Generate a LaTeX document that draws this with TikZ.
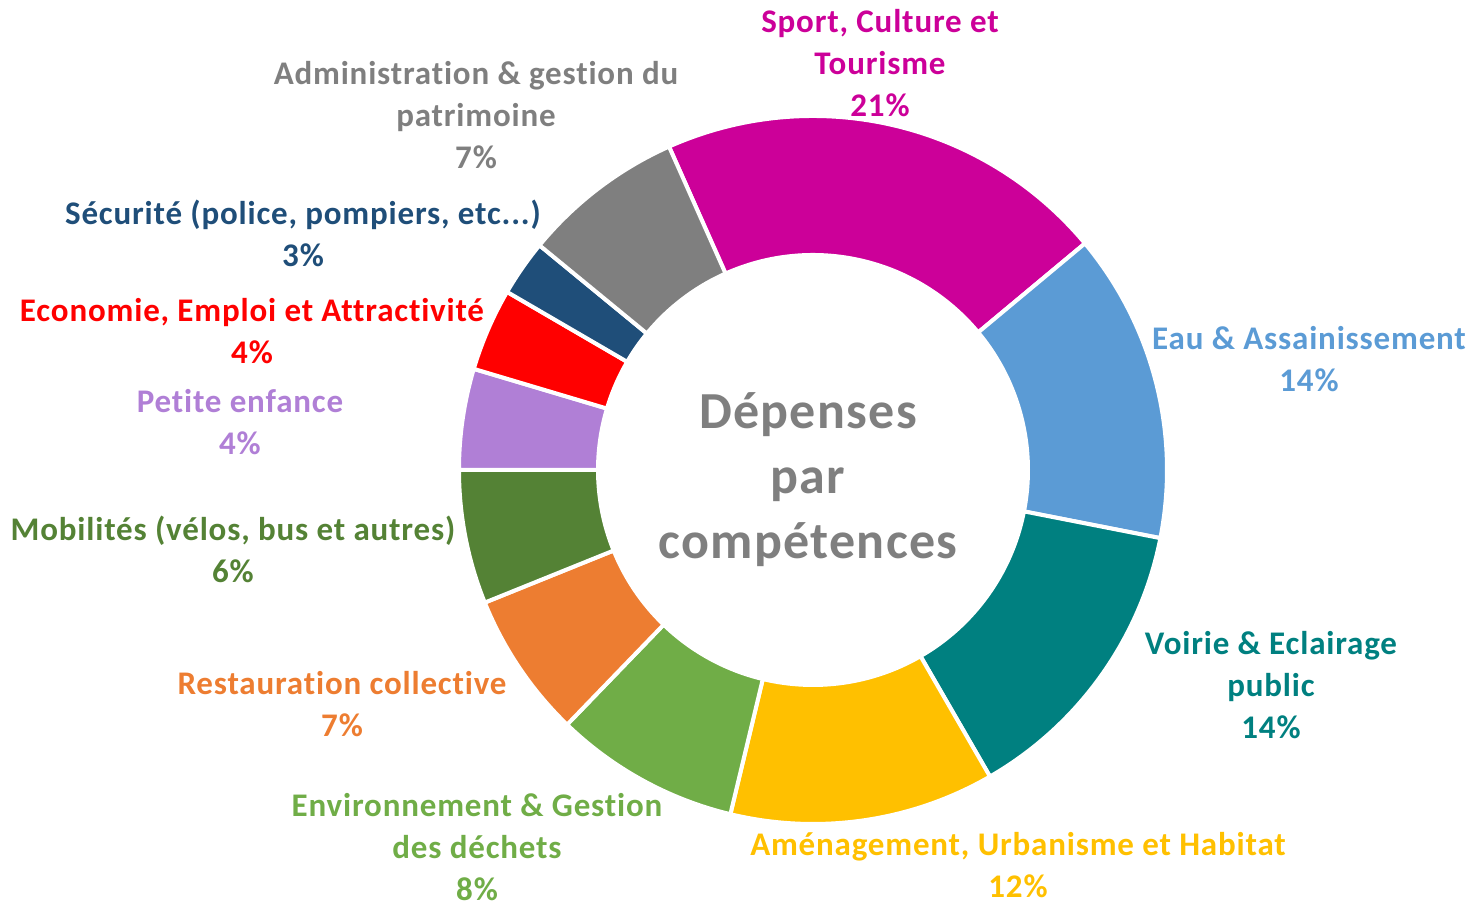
\documentclass[tikz,border=0pt]{standalone}
\usepackage{fontspec}
\setmainfont{Carlito}[LetterSpace=2.5, Ligatures=NoCommon]

\definecolor{sport}{HTML}{CC0099}
\definecolor{eau}{HTML}{5B9BD5}
\definecolor{voirie}{HTML}{008080}
\definecolor{amenag}{HTML}{FFC000}
\definecolor{environ}{HTML}{70AD47}
\definecolor{restau}{HTML}{ED7D31}
\definecolor{mobil}{HTML}{548235}
\definecolor{petite}{HTML}{B07FD6}
\definecolor{econ}{HTML}{FF0000}
\definecolor{secur}{HTML}{1F4E79}
\definecolor{admin}{HTML}{7F7F7F}

\begin{document}
\begin{tikzpicture}[x=0.5pt,y=0.5pt]
    \useasboundingbox (0,0) rectangle (1479,909);
    \tikzset{part/.style = {draw=white, line width=2pt},
        lbl/.style = {font=\bfseries\fontsize{16.5}{21}\selectfont,
            align=center, inner sep=0pt}}
    \coordinate (c) at (813,439);
    % ring segments, clockwise from Sport
    \foreach \a/\b/\col in {114/39.8/sport, 39.8/-11.1/eau, -11.1/-60/voirie,
        -60/-103.5/amenag, -103.5/-134/environ, -134/-158/restau,
        -158/-180/mobil, -180/-196.6/petite, -196.6/-210.2/econ,
        -210.2/-219.4/secur, -219.4/-246/admin}
      \fill[part, fill=\col] (c) ++(\a:354) arc[start angle=\a, end angle=\b, radius=354]
        -- ({813+215*cos(\b)},{439+215*sin(\b)})
        arc[start angle=\b, end angle=\a, radius=215] -- cycle;
    % labels
    \node[lbl, text=sport] (lsport) at (880,845.5) {Sport, Culture et\\Tourisme\\21\%};
    \node[lbl, text=eau] (leau) at (1309,550) {Eau \& Assainissement\\14\%};
    \node[lbl, text=voirie] (lvoirie) at (1271,224) {Voirie \& Eclairage\\public\\14\%};
    \node[lbl, text=amenag] (lamenag) at (1018,44) {Aménagement, Urbanisme et Habitat\\12\%};
    \node[lbl, text=environ] (lenviron) at (477,61.5) {Environnement \& Gestion\\des déchets\\8\%};
    \node[lbl, text=restau] (lrestau) at (342,205) {Restauration collective\\7\%};
    \node[lbl, text=mobil] (lmobil) at (233,360) {Mobilités (vélos, bus et autres)\\6\%};
    \node[lbl, text=petite] (lpetite) at (240,486.5) {Petite enfance\\4\%};
    \node[lbl, text=econ] (lecon) at (252,577.5) {Economie, Emploi et Attractivité\\4\%};
    \node[lbl, text=secur] (lsecur) at (303,676) {Sécurité (police, pompiers, etc...)\\3\%};
    \node[lbl, text=admin] (ladmin) at (476,794) {Administration \& gestion du\\patrimoine\\7\%};
    % centre title
    \node[font=\bfseries\fontsize{26}{32.5}\selectfont, text=admin, align=center,
        inner sep=0pt] (title) at (808,429.5) {Dépenses\\par\\compétences};
\end{tikzpicture}
\end{document}
